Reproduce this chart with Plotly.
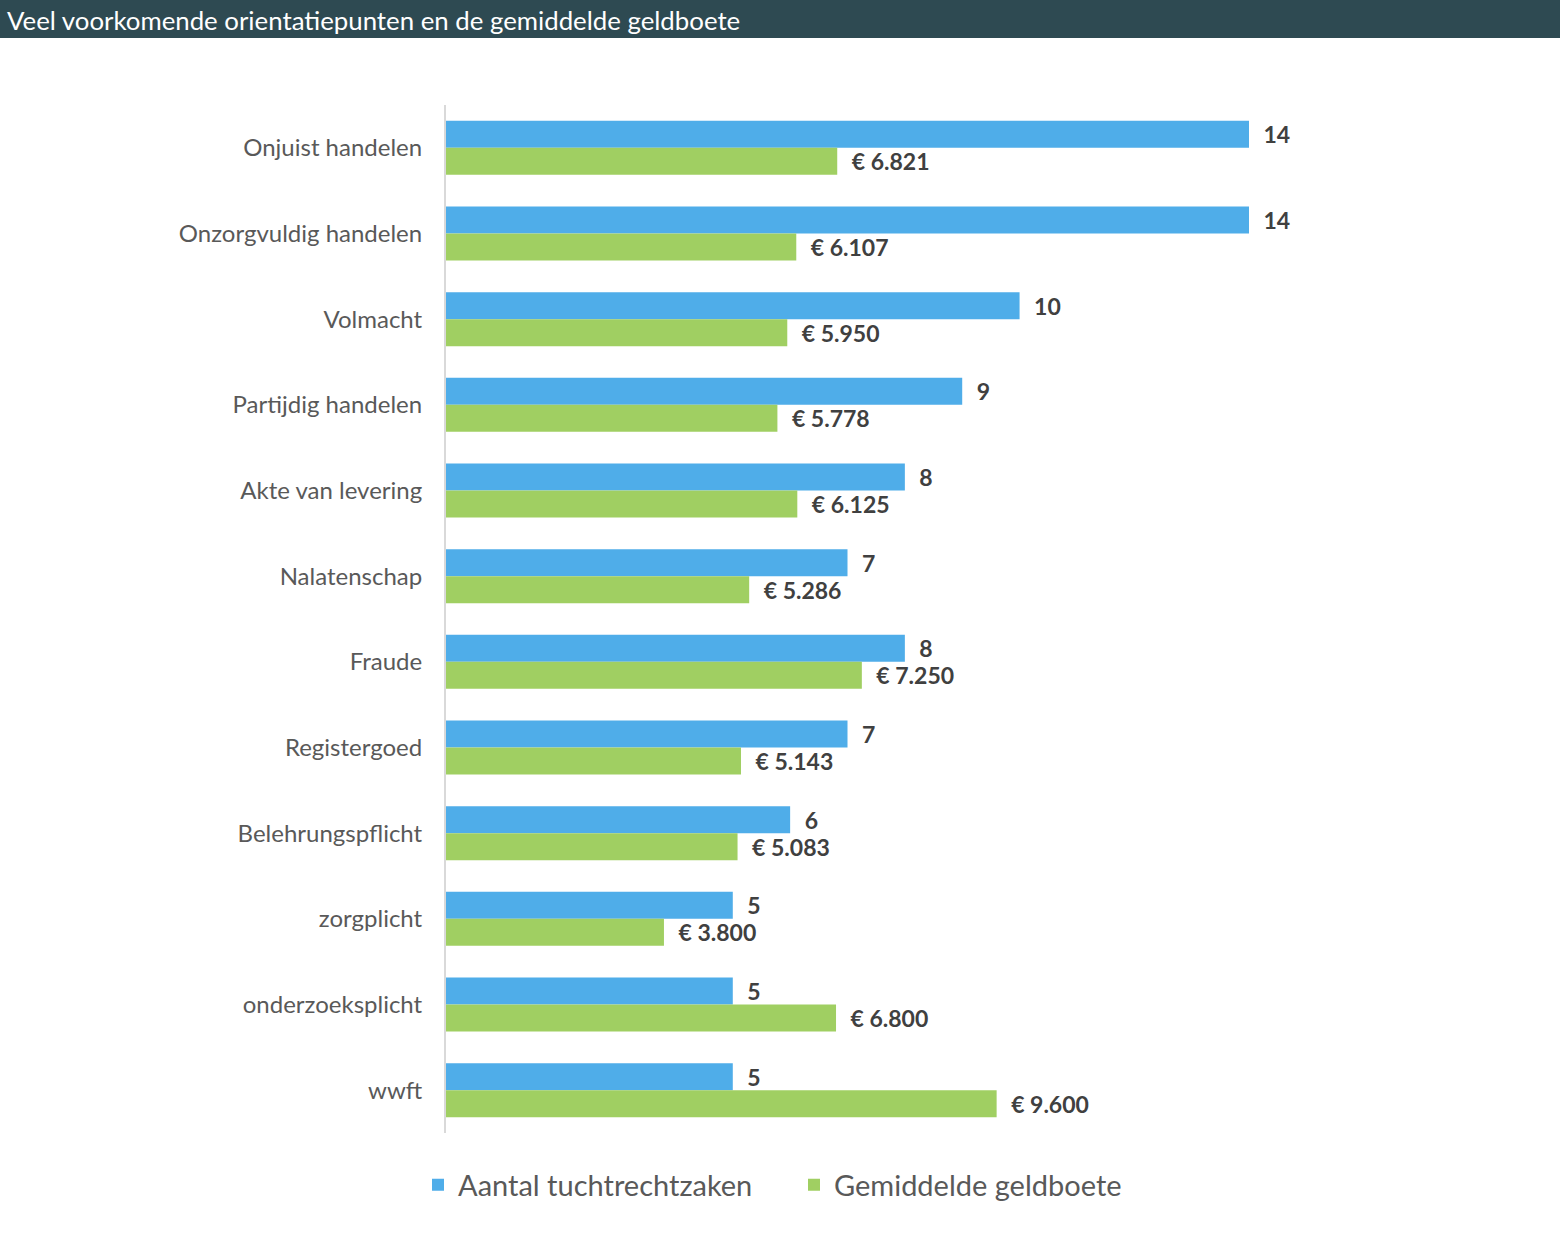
import plotly.graph_objects as go

categories = ["Onjuist handelen", "Onzorgvuldig handelen", "Volmacht", "Partijdig handelen",
              "Akte van levering", "Nalatenschap", "Fraude", "Registergoed",
              "Belehrungspflicht", "zorgplicht", "onderzoeksplicht", "wwft"]
aantal = [14, 14, 10, 9, 8, 7, 8, 7, 6, 5, 5, 5]
boete = [6821, 6107, 5950, 5778, 6125, 5286, 7250, 5143, 5083, 3800, 6800, 9600]

series_names = ["Aantal tuchtrechtzaken", "Gemiddelde geldboete"]
title_text = "Veel voorkomende orientatiepunten en de gemiddelde geldboete"

BLUE = "#4FADE9"
GREEN = "#A0CF62"
FONT = "Lato, 'Open Sans', sans-serif"

def euro(v):
    return "€ " + f"{v:,}".replace(",", ".")

pad = "\u2002"

fig = go.Figure()
fig.add_trace(go.Bar(
    y=categories, x=aantal, orientation="h", name=series_names[0],
    marker=dict(color=BLUE, line=dict(width=0)),
    text=[pad + str(v) for v in aantal], textposition="outside",
    textfont=dict(family=FONT, size=23, color="#404040", weight="bold"),
    constraintext="none", cliponaxis=False,
))
fig.add_trace(go.Bar(
    y=categories, x=[v / 1000 for v in boete], orientation="h", name=series_names[1],
    marker=dict(color=GREEN, line=dict(width=0)),
    text=[pad + euro(v) for v in boete], textposition="outside",
    textfont=dict(family=FONT, size=23, color="#404040", weight="bold"),
    constraintext="none", cliponaxis=False,
))

W, H = 1560, 1234
L, R, T, B = 446, 110, 105, 101
pw = W - L - R
ph = H - T - B

def px_x(px):
    return (px - L) / pw

def px_y(py):
    return (H - B - py) / ph

fig.add_shape(type="rect", xref="paper", yref="paper",
              x0=px_x(0), x1=px_x(W), y0=px_y(38), y1=px_y(0),
              fillcolor="#2E4A52", line=dict(width=0), layer="below")
fig.add_annotation(text=title_text, xref="paper", yref="paper",
                   x=px_x(5), y=px_y(20), xanchor="left", yanchor="middle",
                   showarrow=False, font=dict(family=FONT, size=25.8, color="white"))

fig.update_layout(
    width=W, height=H,
    margin=dict(l=L, r=R, t=T, b=B),
    paper_bgcolor="white", plot_bgcolor="white",
    barmode="group", bargap=0.37, bargroupgap=0,
    font=dict(family=FONT, color="#595959"),
    showlegend=True,
    legend=dict(orientation="h", xref="container", yref="container",
                x=0.5 + 14 / W, xanchor="center", y=1 - 1185 / H, yanchor="middle",
                font=dict(family=FONT, size=29, color="#595959"),
                itemwidth=30, entrywidth=331, traceorder="normal"),
    xaxis=dict(range=[0, 14 * pw / 803], showgrid=False, showticklabels=False,
               zeroline=False, showline=False, ticks=""),
    yaxis=dict(autorange="reversed", showgrid=False, showline=True,
               linecolor="#D9D9D9", linewidth=2, ticks="",
               ticklabelstandoff=17,
               tickfont=dict(family=FONT, size=24, color="#595959")),
)

fig.write_html("out.html", config={"displayModeBar": False},
               post_script="document.body.style.margin='0';")
